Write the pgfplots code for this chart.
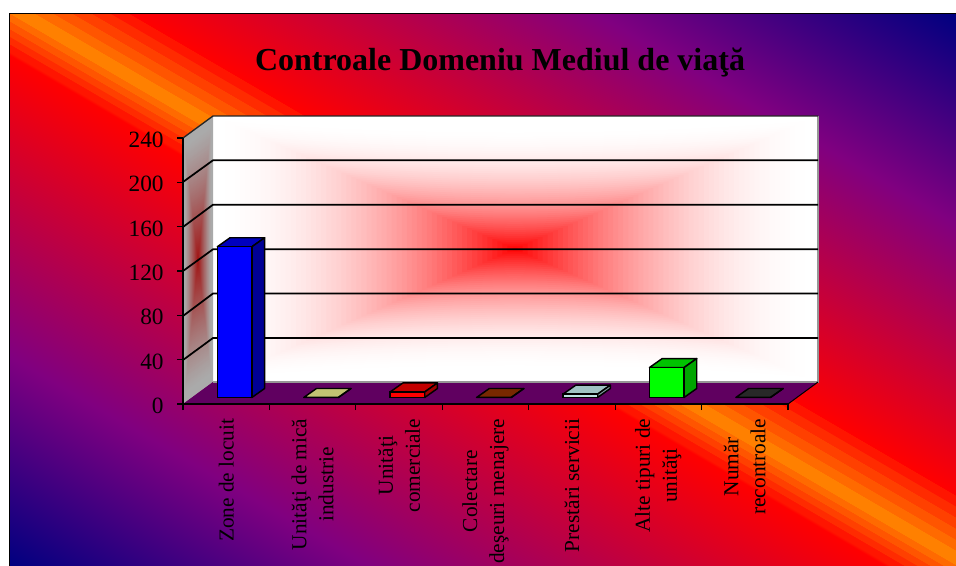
\documentclass[border=0pt]{standalone}
\usepackage{fontspec}
\setmainfont{Liberation Serif}
\usepackage{pgfplots}
\pgfplotsset{compat=1.18}

\definecolor{bgnavy}{RGB}{0,0,128}
\definecolor{bgpurple}{RGB}{128,0,128}
\definecolor{bgred}{RGB}{255,0,0}
\definecolor{bgo0}{RGB}{255,128,0}
\definecolor{bgo1}{RGB}{255,106,0}
\definecolor{bgo2}{RGB}{255,85,0}
\definecolor{bgo3}{RGB}{255,64,0}
\definecolor{bgo4}{RGB}{255,43,0}
\definecolor{bgo5}{RGB}{255,21,0}
\definecolor{floorc}{RGB}{96,0,96}
\definecolor{wallgray}{RGB}{170,170,170}
\definecolor{wallred}{RGB}{160,20,20}
\definecolor{edgegray}{RGB}{150,150,150}

% bar colours: front, top, side
\definecolor{blueF}{RGB}{0,0,255}\definecolor{blueT}{RGB}{0,0,190}\definecolor{blueS}{RGB}{0,0,150}
\definecolor{khaF}{RGB}{215,215,135}\definecolor{khaT}{RGB}{195,195,115}\definecolor{khaS}{RGB}{160,160,95}
\definecolor{redF}{RGB}{255,0,0}\definecolor{redT}{RGB}{195,0,0}\definecolor{redS}{RGB}{160,0,0}
\definecolor{brnF}{RGB}{150,50,0}\definecolor{brnT}{RGB}{120,40,0}\definecolor{brnS}{RGB}{100,30,0}
\definecolor{icyF}{RGB}{190,225,225}\definecolor{icyT}{RGB}{160,195,195}\definecolor{icyS}{RGB}{130,160,160}
\definecolor{grnF}{RGB}{0,255,0}\definecolor{grnT}{RGB}{0,195,0}\definecolor{grnS}{RGB}{0,165,0}
\definecolor{drkF}{RGB}{50,50,50}\definecolor{drkT}{RGB}{40,40,40}\definecolor{drkS}{RGB}{30,30,30}

\pgfdeclarehorizontalshading{slidebg}{100bp}{
  color(0bp)=(bgnavy); color(19bp)=(bgpurple); color(46.3bp)=(bgred);
  color(46.6bp)=(bgo5); color(47.29bp)=(bgo5);
  color(47.3bp)=(bgo4); color(47.99bp)=(bgo4);
  color(48bp)=(bgo3); color(48.69bp)=(bgo3);
  color(48.7bp)=(bgo2); color(49.39bp)=(bgo2);
  color(49.4bp)=(bgo1); color(50.09bp)=(bgo1);
  color(50.1bp)=(bgo0); color(51.39bp)=(bgo0);
  color(51.4bp)=(bgo1); color(52.39bp)=(bgo1);
  color(52.4bp)=(bgo2); color(53.39bp)=(bgo2);
  color(53.4bp)=(bgo3); color(54.39bp)=(bgo3);
  color(54.4bp)=(bgo4); color(55.39bp)=(bgo4);
  color(55.4bp)=(bgo5); color(56.39bp)=(bgo5);
  color(56.4bp)=(bgred); color(81bp)=(bgpurple); color(100bp)=(bgnavy)}

% nested star contours for the walls' centre glow, unit square coordinates
% centre colour, edge colour, ramp exponent, pinch of the top and bottom contours
\newcommand{\glow}[4]{%
  \foreach \k in {60,59,...,1}{%
    \pgfmathsetmacro\lev{(\k-0.5)/60}%
    \pgfmathsetmacro\mixp{100*(1-\lev)^#3}%
    \fill[#1!\mixp!#2] (\lev,{\lev})
      .. controls ({0.4*\lev},{#4*\lev}) and ({-0.4*\lev},{#4*\lev}) .. (-\lev,{\lev})
      -- (-\lev,{-\lev})
      .. controls ({-0.4*\lev},{-#4*\lev}) and ({0.4*\lev},{-#4*\lev}) .. (\lev,{-\lev})
      -- cycle;
  }}

% x, value, front, top, side
\newcommand{\barbox}[5]{%
  \addplot[draw=black,fill=#4,line width=1.1pt,line join=round] coordinates
    {({#1-0.2},{#2}) ({#1-0.053},{#2+8.1}) ({#1+0.347},{#2+8.1}) ({#1+0.2},{#2})} -- cycle;
  \addplot[draw=black,fill=#5,line width=1.1pt,line join=round] coordinates
    {({#1+0.2},0) ({#1+0.347},8.1) ({#1+0.347},{#2+8.1}) ({#1+0.2},{#2})} -- cycle;
  \addplot[ybar,bar width=0.4,bar shift=0pt,draw=black,fill=#3,line width=1.1pt] coordinates {(#1,#2)};
}

\begin{document}
\begin{tikzpicture}[x=0.75pt,y=-0.75pt]
\path[use as bounding box] (0,0) rectangle (956,566);
\clip (0,0) rectangle (956,566);

% slide background
\begin{scope}
  \clip (9,14) rectangle (957,567);
  \begin{pgfscope}
    \pgftransformcm{7.076}{4.1245}{14.152}{-8.249}{\pgfpoint{-703.5pt}{-10.5pt}}
    \pgftext[left,bottom,at=\pgfpointorigin]{\pgfuseshading{slidebg}}
  \end{pgfscope}
\end{scope}
\draw[black,line width=0.75pt] (9,14) rectangle (957,567);

% back wall
\fill[white] (213,116) rectangle (818,382);
\begin{scope}
  \clip (213,116) rectangle (818,382);
  \begin{scope}[shift={(515,249)},x={(302,0)},y={(0,133)}]
    \glow{red}{white}{1.9}{0.88}
  \end{scope}
\end{scope}
% left wall
\fill[wallgray] (183,138) -- (213,116) -- (213,382) -- (183,404) -- cycle;
\begin{scope}
  \clip (183,138) -- (213,116) -- (213,382) -- (183,404) -- cycle;
  \begin{scope}[shift={(198,260)},x={(13,-9.5)},y={(0,125)}]
    \glow{wallred}{wallgray}{1.2}{1}
  \end{scope}
\end{scope}
% floor
\fill[floorc] (183,404) -- (213,382) -- (818,382) -- (788,404) -- cycle;
\draw[edgegray,line width=1pt] (213,382) -- (818,382) -- (818,116);
\draw[black!85,line width=1pt] (183,138) -- (213,116) -- (818,116);
\draw[black,line width=0.75pt] (788,404) -- (818,382);

% gridlines
\foreach \a/\b in {182/160.3,227/204.7,271/249.3,316/293.5,360/338}{
  \draw[black,line width=1.3pt] (183,\a) -- (213,\b) -- (818,\b);
}

\coordinate (O) at (183,404);
\begin{axis}[
  at={(O)}, anchor=south west,
  scale only axis,
  width=453.75pt, height=199.5pt,
  xmin=0, xmax=7, ymin=0, ymax=240,
  clip=false,
  axis x line=bottom, axis y line=left,
  axis line style={-,black},
  x axis line style={line width=1.3pt},
  y axis line style={line width=0.8pt},
  tick align=outside,
  major tick length=4.5pt, minor tick length=4.5pt,
  tick style={black,line width=0.8pt},
  major x tick style={draw=none},
  ytick={0,40,...,240},
  xtick={0.5,1.5,2.5,3.5,4.5,5.5,6.5},
  minor xtick={0,1,...,7},
  xticklabels={Zone de locuit,
    {Unităţi de mică\\industrie},
    {Unităţi\\comerciale},
    {Colectare\\deşeuri menajere},
    Prestări servicii,
    {Alte tipuri de\\unităţi},
    {Număr\\recontroale}},
  /pgf/number format/assume math mode=true,
  y tick label style={font=\fontsize{17.5}{20}\selectfont,xshift=-6.5pt,yshift=-1.5pt},
  x tick label style={font=\fontsize{16}{20.25}\selectfont,rotate=90,anchor=east,align=center,xshift=-3pt},
  title={\textbf{Controale Domeniu Mediul de viaţă}},
  title style={font=\fontsize{24}{28}\selectfont,at={(0.5,1)},anchor=base,xshift=10.9pt,yshift=45pt},
  every axis plot/.append style={xshift=6.3pt,yshift=4.9pt},
]
\barbox{0.5}{136}{blueF}{blueT}{blueS}
\barbox{1.5}{0}{khaF}{khaT}{khaS}
\barbox{2.5}{5}{redF}{redT}{redS}
\barbox{3.5}{0}{brnF}{brnT}{brnS}
\barbox{4.5}{3}{icyF}{icyT}{icyS}
\barbox{5.5}{27}{grnF}{grnT}{grnS}
\barbox{6.5}{0}{drkF}{drkT}{drkS}
\end{axis}
\end{tikzpicture}
\end{document}
